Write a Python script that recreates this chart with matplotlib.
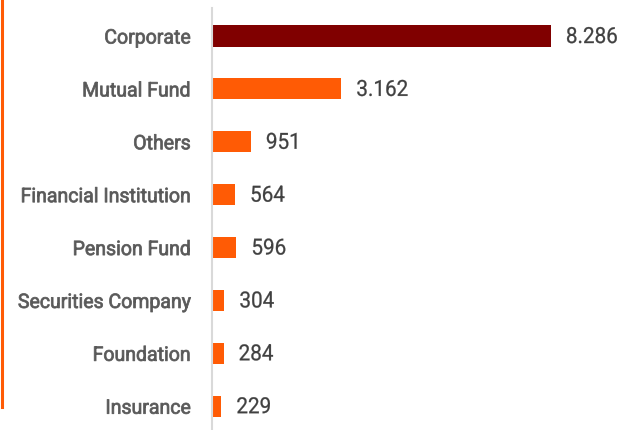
import matplotlib
matplotlib.use("Agg")
import matplotlib.pyplot as plt
from matplotlib.lines import Line2D
from matplotlib.patheffects import AbstractPathEffect
from matplotlib.transforms import Affine2D

categories = ["Corporate", "Mutual Fund", "Others", "Financial Institution",
              "Pension Fund", "Securities Company", "Foundation", "Insurance"]
values = [8286, 3162, 951, 564, 596, 304, 284, 229]
value_labels = ["8.286", "3.162", "951", "564", "596", "304", "284", "229"]
colors = ["#800000"] + ["#FF5B05"] * 7

plt.rcParams['font.family'] = ['Roboto', 'DejaVu Sans']


class Squeeze(AbstractPathEffect):
    """Narrow the glyphs horizontally around a fixed x (display pixels),
    optionally thickening them with a thin outline of the same colour."""
    def __init__(self, sx, x0, dy=0.0, lw=0.0):
        super().__init__()
        self.sx = sx
        self.x0 = x0
        self.dy = dy
        self.lw = lw

    def draw_path(self, renderer, gc, tpath, affine, rgbFace=None):
        t = affine + Affine2D().translate(-self.x0, 0).scale(self.sx, 1).translate(self.x0, self.dy)
        gc0 = renderer.new_gc()
        gc0.copy_properties(gc)
        if self.lw > 0 and rgbFace is not None:
            gc0.set_linewidth(self.lw)
            gc0.set_foreground(rgbFace)
        renderer.draw_path(gc0, tpath, t, rgbFace)
        gc0.restore()


DPI = 100
W, H = 626, 431
fig = plt.figure(figsize=(W / DPI, H / DPI), dpi=DPI)
ax_left_px = 212
ax = fig.add_axes([ax_left_px / W, 0, (621 - ax_left_px) / W, 1 - 9 / H])

y = list(range(len(categories)))
ax.barh(y, values, height=0.4, color=colors)
ax.set_ylim(7.45, -0.53)
ax.set_xlim(0, 10000)
ax.set_yticks(y)
ax.set_yticklabels(categories)
pad_pt = 15.5
label_right_px = ax_left_px - pad_pt * DPI / 72
for t in ax.get_yticklabels():
    t.set_fontsize(14.4)
    t.set_color("#595959")
    t.set_path_effects([Squeeze(0.975, label_right_px, lw=0.55)])
ax.tick_params(axis='y', length=0, pad=pad_pt)
ax.set_xticks([])
for s in ["top", "right", "bottom"]:
    ax.spines[s].set_visible(False)
ax.spines["left"].set_color("#D9D9D9")
ax.spines["left"].set_linewidth(1.5)

off_pt = 10.8
for yi, v, lab in zip(y, values, value_labels):
    x0 = ax.transData.transform((v, yi))[0] + off_pt * DPI / 72
    ax.annotate(lab, (v, yi), xytext=(off_pt, 0), textcoords="offset points",
                va="center", ha="left", fontsize=16, color="#404040",
                path_effects=[Squeeze(0.93, x0, dy=-1.5, lw=0.2)])

fig.add_artist(Line2D([1.5 / W, 1.5 / W], [1, 1 - 408 / H], color="#FF5B05",
                      linewidth=2.2, transform=fig.transFigure))

fig.savefig("out.png", dpi=DPI)
